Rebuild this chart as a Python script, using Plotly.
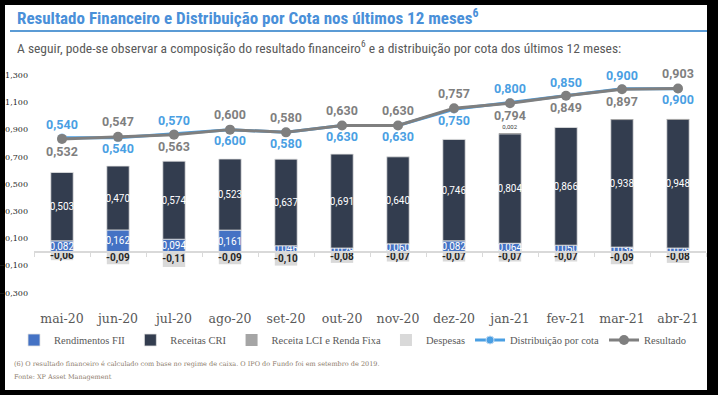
import plotly.graph_objects as go

months = ["mai-20", "jun-20", "jul-20", "ago-20", "set-20", "out-20",
          "nov-20", "dez-20", "jan-21", "fev-21", "mar-21", "abr-21"]
rend_fii = [0.082, 0.162, 0.094, 0.161, 0.046, 0.029, 0.060, 0.082, 0.064, 0.050, 0.036, 0.029]
receitas_cri = [0.503, 0.470, 0.574, 0.523, 0.637, 0.691, 0.640, 0.746, 0.804, 0.866, 0.938, 0.948]
receita_lci = [0, 0, 0, 0, 0, 0, 0, 0, 0.002, 0, 0.002, 0.001]
receita_lci_labels = ["", "", "", "", "", "", "", "", "0,002", "", "", ""]
despesas = [-0.06, -0.09, -0.11, -0.09, -0.10, -0.08, -0.07, -0.07, -0.07, -0.07, -0.09, -0.08]
distribuicao = [0.540, 0.540, 0.570, 0.600, 0.580, 0.630, 0.630, 0.750, 0.800, 0.850, 0.900, 0.900]
resultado = [0.532, 0.547, 0.563, 0.600, 0.580, 0.630, 0.630, 0.757, 0.794, 0.849, 0.897, 0.903]
y_ticks = [-0.3, -0.1, 0.1, 0.3, 0.5, 0.7, 0.9, 1.1, 1.3]

W, H = 718, 395
ML, MR, MT, MB = 34, 12, 66, 95
PW, PH = W - ML - MR, H - MT - MB


def px(x):
    return (x - ML) / PW


def py(y):
    return (H - MB - y) / PH


Y_RANGE = [-0.353, 1.368]
Y2_SHIFT = 0.30
Y2_RANGE = [Y_RANGE[0] - Y2_SHIFT, Y_RANGE[1] - Y2_SHIFT]

SERIF = "DejaVu Serif, serif"
LEG_SERIF = "Liberation Serif, serif"
SANS = "Roboto, Arial, sans-serif"
NARROW = "Liberation Sans Narrow, Roboto Condensed, Roboto, sans-serif"

BLUE_LINE = "#4A9FE3"
GREY_LINE = "#7F7F7F"

bar_common = dict(width=0.4, textangle=0, constraintext="none", cliponaxis=False)

fig = go.Figure()

fig.add_trace(go.Bar(
    x=months, y=rend_fii, name="Rendimentos FII",
    marker=dict(color="#4472C4", line=dict(color="#E3E3E3", width=0.8)),
    texttemplate="%{y:.3f}", textposition="inside", insidetextanchor="middle",
    textfont=dict(color="white", size=10, family=SANS), **bar_common,
))
fig.add_trace(go.Bar(
    x=months, y=receitas_cri, name="Receitas CRI",
    marker=dict(color="#333D4F", line=dict(color="#E3E3E3", width=0.8)),
    texttemplate="%{y:.3f}", textposition="inside", insidetextanchor="middle",
    textfont=dict(color="white", size=10, family=SANS), **bar_common,
))
fig.add_trace(go.Bar(
    x=months, y=receita_lci, name="Receita LCI e Renda Fixa",
    marker=dict(color="#A5A5A5", line=dict(color="#E3E3E3", width=0)),
    text=receita_lci_labels, textposition="outside",
    textfont=dict(color="#404040", size=6, family=SANS), **bar_common,
))
fig.add_trace(go.Bar(
    x=months, y=despesas, name="Despesas",
    marker=dict(color="#D9D9D9", line=dict(color="#E3E3E3", width=0)),
    texttemplate="<b>%{y:.2f}</b>", textposition="inside", insidetextanchor="middle",
    textfont=dict(color="#262626", size=10, family=SANS), **bar_common,
))

dist_pos = ["top center" if d > r else "bottom center" for d, r in zip(distribuicao, resultado)]
res_pos = ["bottom center" if d > r else "top center" for d, r in zip(distribuicao, resultado)]

fig.add_trace(go.Scatter(
    x=months, y=distribuicao, name="Distribuição por cota",
    xaxis="x2", yaxis="y2", mode="lines+markers+text",
    line=dict(color=BLUE_LINE, width=3),
    marker=dict(color=BLUE_LINE, size=8, line=dict(color="#BFD9F2", width=1)),
    texttemplate="<b>%{y:.3f}</b>", textposition=dist_pos,
    textfont=dict(color=BLUE_LINE, size=12.5, family=SANS), cliponaxis=False,
))
fig.add_trace(go.Scatter(
    x=months, y=resultado, name="Resultado",
    xaxis="x2", yaxis="y2", mode="lines+markers+text",
    line=dict(color=GREY_LINE, width=3),
    marker=dict(color=GREY_LINE, size=10),
    texttemplate="<b>%{y:.3f}</b>", textposition=res_pos,
    textfont=dict(color=GREY_LINE, size=12.5, family=SANS), cliponaxis=False,
))

zero_pos = (0 - Y_RANGE[0]) / (Y_RANGE[1] - Y_RANGE[0])

fig.update_layout(
    template="none",
    width=W, height=H,
    margin=dict(l=ML, r=MR, t=MT, b=MB, pad=0, autoexpand=False),
    paper_bgcolor="black",
    plot_bgcolor="rgba(0,0,0,0)",
    separators=",.",
    barmode="relative",
    showlegend=True,
    legend=dict(
        orientation="h", x=px(14), y=py(340), xanchor="left", yanchor="middle",
        font=dict(family=LEG_SERIF, size=10.5, color="#595959"),
        itemwidth=30, traceorder="normal", bgcolor="rgba(0,0,0,0)",
        tracegroupgap=0,
    ),
    xaxis=dict(
        type="category", categoryorder="array", categoryarray=months,
        range=[-0.5, len(months) - 0.5], automargin=False,
        anchor="free", position=zero_pos,
        showline=True, linecolor="#D9D9D9", linewidth=1.5,
        ticks="outside", ticklen=4, tickcolor="#D9D9D9", tickwidth=1,
        tickson="boundaries", showticklabels=False, showgrid=False,
        zeroline=False,
    ),
    xaxis2=dict(
        type="category", categoryorder="array", categoryarray=months,
        range=[-0.5, len(months) - 0.5], automargin=False,
        overlaying="x", anchor="y2", side="bottom",
        showline=False, showgrid=False, ticks="", zeroline=False,
        tickfont=dict(family=SERIF, size=12.5, color="#595959"),
        ticklabelstandoff=9,
    ),
    yaxis=dict(
        range=Y_RANGE, tickvals=y_ticks, tickformat=".3f", automargin=False,
        showgrid=False, zeroline=False, showline=False, ticks="",
        tickfont=dict(family=SERIF, size=8, color="#262626"),
        ticklabelstandoff=5,
    ),
    yaxis2=dict(
        range=Y2_RANGE, overlaying="y", anchor="x2", side="right",
        visible=False, showgrid=False, zeroline=False, automargin=False,
    ),
    shapes=[
        dict(type="rect", xref="paper", yref="paper", layer="below",
             x0=px(5), x1=px(707), y0=py(390), y1=py(5),
             fillcolor="white", line=dict(width=0)),
        dict(type="line", xref="paper", yref="paper",
             x0=px(10), x1=px(707), y0=py(31), y1=py(31),
             line=dict(color="#5B9BD5", width=2)),
    ],
    annotations=[
        dict(text="<b>Resultado Financeiro e Distribuição por Cota nos últimos 12 meses<sup>6</sup></b>",
             xref="paper", yref="paper", x=px(15), y=py(17),
             xanchor="left", yanchor="middle", showarrow=False,
             font=dict(family=NARROW, size=17, color="#4A90D9")),
        dict(text="A seguir, pode-se observar a composição do resultado financeiro<sup>6</sup> e a distribuição por cota dos últimos 12 meses:",
             xref="paper", yref="paper", x=px(15), y=py(47),
             xanchor="left", yanchor="middle", showarrow=False,
             font=dict(family=NARROW, size=13.5, color="#595959")),
        dict(text="(6) O resultado financeiro é calculado com base no regime de caixa. O IPO do Fundo foi em setembro de 2019.",
             xref="paper", yref="paper", x=px(12), y=py(364),
             xanchor="left", yanchor="middle", showarrow=False,
             font=dict(family=SERIF, size=6.5, color="#8C7B6B")),
        dict(text="Fonte: XP Asset Management",
             xref="paper", yref="paper", x=px(12), y=py(377),
             xanchor="left", yanchor="middle", showarrow=False,
             font=dict(family=SERIF, size=6.5, color="#8C7B6B")),
    ],
)

fig.write_html(
    "out.html",
    config={"displayModeBar": False},
    post_script="document.body.style.margin='0';document.body.style.padding='0';"
                "document.body.style.overflow='hidden';document.body.style.background='black';",
)
